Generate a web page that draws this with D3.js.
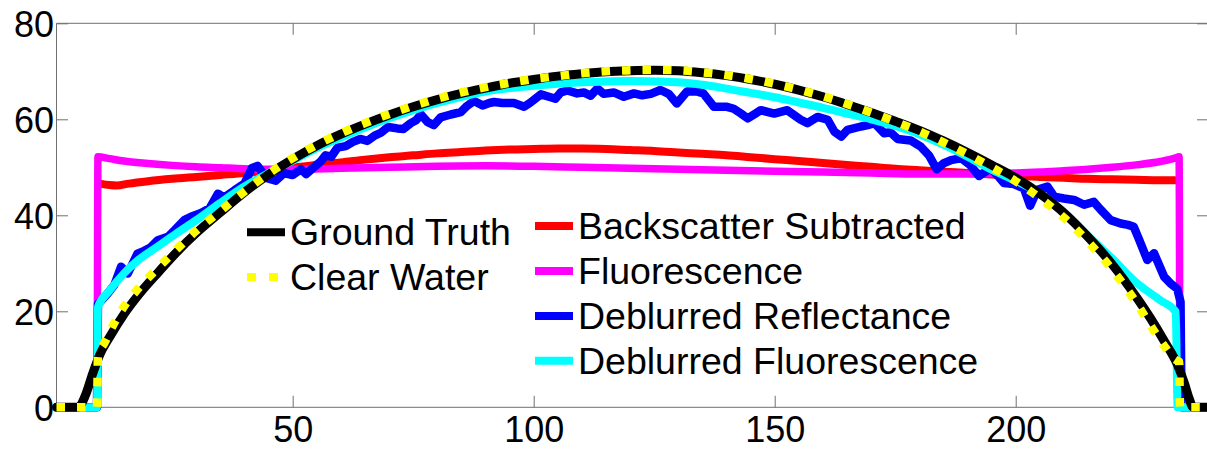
<!DOCTYPE html>
<html>
<head>
<meta charset="utf-8">
<script src="https://cdn.jsdelivr.net/npm/d3@7"></script>
<style>
  html, body { margin: 0; padding: 0; background: #fff; }
  svg { display: block; }
  text { font-family: "Liberation Sans", Arial, Helvetica, sans-serif; fill: #000; }
</style>
</head>
<body>
<svg id="chart" width="1207" height="451"></svg>
<script>
// ---------- data ----------
const xTicks = [50, 100, 150, 200];
const yTicks = [0, 20, 40, 60, 80];

const groundTruthX = [1, 5.5, 7, 8.5, 10, 12, 15, 18, 22, 26, 30, 35, 40, 45, 50, 55, 60, 65, 70, 75, 80, 85, 90, 95, 100, 105, 110, 115, 120, 125, 130, 135, 140, 145, 150, 155, 160, 165, 170, 175, 180, 185, 190, 195, 200, 205, 210, 215, 220, 225, 228, 231, 233.5, 235, 236, 236.8, 240];
const groundTruthY = [0, 0, 2.5, 7, 11, 14.6, 19.4, 23.4, 28, 32.4, 36.3, 40.6, 44.8, 48.5, 51.7, 54.5, 56.9, 59, 60.9, 62.6, 64.1, 65.4, 66.5, 67.5, 68.3, 69, 69.5, 69.9, 70.1, 70.2, 70.1, 69.7, 69.1, 68.3, 67.3, 66.1, 64.7, 63.1, 61.4, 59.6, 57.7, 55.5, 53.1, 50.5, 47.8, 44.5, 40.5, 35.5, 29.8, 23, 18.5, 13.5, 9, 5, 1.8, 0, 0];

const clearWaterX = [1, 9.4, 9.6, 11, 13, 15, 18, 22, 26, 30, 35, 40, 45, 50, 55, 60, 65, 70, 75, 80, 85, 90, 95, 100, 105, 110, 115, 120, 125, 130, 135, 140, 145, 150, 155, 160, 165, 170, 175, 180, 185, 190, 195, 200, 205, 210, 215, 220, 225, 228, 231, 233, 233.9, 234.1, 240];
const clearWaterY = [0, 0, 10.5, 13.5, 17.6, 21, 24.8, 29, 33, 36.8, 40.9, 45, 48.7, 51.9, 54.7, 57.1, 59.2, 61.1, 62.8, 64.3, 65.6, 66.7, 67.6, 68.4, 69, 69.6, 70, 70.2, 70.3, 70.2, 69.8, 69.2, 68.4, 67.4, 66.2, 64.8, 63.2, 61.4, 59.5, 57.5, 55.2, 52.7, 50, 47.1, 43.6, 39.5, 34.5, 28.7, 21.8, 17, 12.5, 10, 9.5, 0, 0];

const backscatterX = [10, 12, 13.5, 16, 20, 25, 30, 35, 40, 45, 50, 55, 60, 65, 70, 75, 80, 85, 90, 95, 100, 105, 110, 115, 120, 125, 130, 135, 140, 145, 150, 155, 160, 165, 170, 175, 180, 185, 190, 195, 200, 205, 210, 215, 220, 225, 230, 233];
const backscatterY = [46.6, 46.3, 46.2, 46.6, 47.1, 47.6, 48, 48.4, 48.8, 49.3, 49.9, 50.5, 51, 51.6, 52.1, 52.5, 52.9, 53.2, 53.5, 53.7, 53.8, 53.9, 53.9, 53.8, 53.6, 53.4, 53.1, 52.8, 52.5, 52.1, 51.7, 51.3, 50.9, 50.5, 50.1, 49.7, 49.4, 49.1, 48.8, 48.5, 48.2, 48, 47.8, 47.6, 47.5, 47.4, 47.3, 47.3];

const fluorescenceX = [1, 9.4, 9.6, 12, 15, 20, 25, 30, 35, 40, 45, 50, 60, 70, 80, 90, 100, 110, 120, 130, 140, 150, 160, 170, 180, 190, 195, 200, 205, 210, 215, 220, 225, 230, 233, 233.9, 234.1, 240];
const fluorescenceY = [0, 0, 52.2, 51.8, 51.3, 50.8, 50.4, 50.1, 49.9, 49.7, 49.6, 49.6, 49.8, 50, 50.2, 50.3, 50.2, 50, 49.8, 49.6, 49.4, 49.2, 49, 48.8, 48.6, 48.6, 48.7, 48.8, 49, 49.3, 49.6, 50, 50.5, 51.2, 51.9, 52.2, 0, 0];

const deblurReflX = [1, 9.4, 9.6, 11.6, 13, 14.4, 15.8, 17.8, 19.2, 20.5, 22, 24.1, 25.5, 27.5, 28.9, 31, 32.8, 34.5, 35.8, 37.9, 40, 41.5, 42.7, 44.5, 46.5, 48.2, 50, 51.7, 52.8, 54.4, 55.8, 56.8, 58, 59.3, 61, 62.5, 64, 65.5, 67, 68.3, 69.8, 71.7, 73, 74.5, 75.6, 76.6, 78, 79.3, 80.7, 82.8, 84.9, 86.2, 87.6, 89.4, 90.8, 91.8, 93.5, 95.9, 98, 99.2, 101.5, 103.5, 104.5, 105.6, 107, 109, 110.4, 111.8, 113.2, 114.5, 116.6, 118.7, 120.8, 122.5, 124.3, 126.3, 128, 129.7, 131.8, 133.8, 135.2, 137.4, 140.1, 141.5, 143, 144.4, 146, 147.1, 149.9, 152.6, 155.4, 156.8, 158.9, 161, 162.4, 163.8, 165.1, 167.9, 169.3, 170.7, 172.7, 174, 175.5, 178.2, 180.3, 182, 183.6, 185, 186.6, 188.7, 190.5, 192.4, 194.8, 196.5, 197.6, 199.6, 201.7, 203, 204.5, 206.6, 208, 210, 212.1, 214.2, 216.2, 217.6, 219.7, 221.8, 223.3, 224.5, 225.5, 227.3, 228.7, 230.8, 232.1, 233.5, 234.2, 234.4, 240];
const deblurReflY = [0, 0, 21.5, 23.7, 25.5, 29.3, 27.9, 32, 32.6, 33.3, 34.8, 35.5, 36.9, 39, 39.7, 40.5, 41.5, 44.5, 43.7, 45.2, 46.6, 49.8, 50.3, 47.8, 47.2, 48.8, 48.4, 49.6, 48.6, 50, 51.2, 52.5, 52.2, 54.1, 54.4, 55.3, 55.9, 55.5, 56.6, 57.2, 58.4, 58.1, 58, 59.2, 59.8, 61, 59.4, 58.8, 60.4, 61, 61.5, 62.8, 63.8, 62.9, 63.4, 63.6, 63.4, 63.4, 62.6, 63.4, 65.2, 64.6, 64.3, 65.6, 66, 65.4, 65.6, 64.9, 66.4, 65.3, 65.6, 64.7, 65.4, 65, 65.3, 66.1, 65.3, 63.3, 65.8, 65.8, 65.4, 62.6, 62.6, 62.2, 61.2, 60.2, 61.2, 61.9, 61.2, 61.9, 59.9, 59.2, 60.5, 59.9, 57.4, 56.4, 57.8, 58.5, 58.8, 59.2, 57.1, 57.3, 55.9, 55.6, 54.3, 52.5, 49.6, 50.8, 51.5, 51.9, 50.5, 48.2, 49.8, 48, 46.7, 46.5, 45.6, 42, 45.3, 46, 43.9, 43.5, 43.2, 42.2, 42.8, 41.2, 39, 38.3, 38, 37.6, 35.2, 30.7, 32.1, 27.2, 25.8, 24.7, 22, 0, 0];

const deblurFluorX = [1, 9.4, 9.6, 12, 15, 18, 22, 26, 30, 35, 40, 45, 50, 55, 60, 65, 70, 75, 80, 85, 90, 95, 100, 105, 110, 115, 120, 125, 130, 135, 140, 145, 150, 155, 160, 165, 170, 175, 180, 185, 190, 195, 200, 205, 210, 215, 220, 225, 230, 233.2, 233.6, 240];
const deblurFluorY = [0, 0, 20.9, 24.3, 27.9, 30.7, 33.5, 36.3, 39, 42.6, 46, 48.8, 51.4, 54, 56.2, 58.3, 60.2, 61.9, 63.4, 64.7, 65.8, 66.5, 67, 67.4, 67.7, 67.9, 68, 67.9, 67.7, 67.2, 66.4, 65.5, 64.6, 63.5, 62.4, 61.2, 60, 58.6, 56.9, 54.7, 52.2, 49.5, 47.2, 44.6, 40.6, 35.7, 31, 26, 22.3, 19.9, 0, 0];

const legendLabels = ["Ground Truth", "Clear Water", "Backscatter Subtracted", "Fluorescence", "Deblurred Reflectance", "Deblurred Fluorescence"];
const seriesColors = ["#000000", "#ffff00", "#ff0000", "#ff00ff", "#0000ff", "#00ffff"];

// ---------- layout ----------
const plotLeft = 56.5, plotRight = 1208.5, plotTop = 23.3, plotBottom = 407.3;
const axisColor = "#707070";

const svg = d3.select("#chart");
const x = d3.scaleLinear().domain([1, 240]).range([plotLeft, plotRight]);
const y = d3.scaleLinear().domain([0, 80]).range([plotBottom, plotTop]);

// axes box
const g = svg.append("g");
g.append("line").attr("x1", plotLeft).attr("x2", plotRight).attr("y1", plotTop).attr("y2", plotTop).attr("stroke", axisColor);
g.append("line").attr("x1", plotLeft).attr("x2", plotRight).attr("y1", plotBottom).attr("y2", plotBottom).attr("stroke", axisColor);
g.append("line").attr("x1", plotLeft).attr("x2", plotLeft).attr("y1", plotTop).attr("y2", plotBottom).attr("stroke", axisColor);
g.append("line").attr("x1", plotRight).attr("x2", plotRight).attr("y1", plotTop).attr("y2", plotBottom).attr("stroke", axisColor);

// x axis (bottom, ticks inward) and top mirror ticks
const xAxis = d3.axisBottom(x).tickValues(xTicks).tickSize(-11.5).tickSizeOuter(0);
const gx = svg.append("g").attr("transform", `translate(0,${plotBottom})`).call(xAxis);
gx.select(".domain").remove();
gx.selectAll(".tick line").attr("stroke", axisColor);
gx.selectAll(".tick text").attr("font-size", 36).attr("dy", 0).attr("y", 34.5)
  .style("font-family", "'Liberation Sans', Arial, sans-serif").attr("fill", "#000");
const gxt = svg.append("g").attr("transform", `translate(0,${plotTop})`)
  .call(d3.axisTop(x).tickValues(xTicks).tickSize(-11.5).tickFormat(""));
gxt.select(".domain").remove();
gxt.selectAll(".tick line").attr("stroke", axisColor);

// y axis (left, ticks inward) and right mirror ticks
const yAxis = d3.axisLeft(y).tickValues(yTicks).tickSize(-11.5).tickSizeOuter(0);
const gy = svg.append("g").attr("transform", `translate(${plotLeft},0)`).call(yAxis);
gy.select(".domain").remove();
gy.selectAll(".tick line").attr("stroke", axisColor);
gy.selectAll(".tick text").attr("font-size", 36).attr("x", -2.5).attr("dy", "0.36em")
  .style("font-family", "'Liberation Sans', Arial, sans-serif").attr("fill", "#000");
const gyr = svg.append("g").attr("transform", `translate(${plotRight},0)`)
  .call(d3.axisRight(y).tickValues(yTicks).tickSize(-11.5).tickFormat(""));
gyr.select(".domain").remove();
gyr.selectAll(".tick line").attr("stroke", axisColor);

// ---------- series ----------
function pts(xs, ys) { return xs.map((d, i) => [d, ys[i]]); }
const smooth = d3.line().x(d => x(d[0])).y(d => y(d[1])).curve(d3.curveMonotoneX);
const straight = d3.line().x(d => x(d[0])).y(d => y(d[1]));

const series = [
  { data: pts(backscatterX, backscatterY), gen: smooth, color: seriesColors[2], w: 8 },
  { data: pts(fluorescenceX, fluorescenceY), gen: smooth, color: seriesColors[3], w: 7.5 },
  { data: pts(deblurReflX, deblurReflY), gen: straight, color: seriesColors[4], w: 8.5 },
  { data: pts(deblurFluorX, deblurFluorY), gen: smooth, color: seriesColors[5], w: 8 },
  { data: pts(groundTruthX, groundTruthY), gen: smooth, color: seriesColors[0], w: 9 },
  { data: pts(clearWaterX, clearWaterY), gen: smooth, color: seriesColors[1], w: 8.5, dash: "8.5,12" }
];
const lines = svg.append("g");
series.forEach(s => {
  lines.append("path")
    .attr("d", s.gen(s.data))
    .attr("fill", "none")
    .attr("stroke", s.color)
    .attr("stroke-width", s.w)
    .attr("stroke-linejoin", "round")
    .attr("stroke-linecap", s.dash ? "butt" : "round")
    .attr("stroke-dasharray", s.dash || null);
});

// ---------- legend ----------
const legendItems = [
  { label: legendLabels[0], color: seriesColors[0], lx: 247, ly: 232.3 },
  { label: legendLabels[1], color: seriesColors[1], lx: 247, ly: 277, dash: "9,13" },
  { label: legendLabels[2], color: seriesColors[2], lx: 535, ly: 226 },
  { label: legendLabels[3], color: seriesColors[3], lx: 535, ly: 271 },
  { label: legendLabels[4], color: seriesColors[4], lx: 535, ly: 316 },
  { label: legendLabels[5], color: seriesColors[5], lx: 535, ly: 360.7 }
];
const lg = svg.append("g");
legendItems.forEach(it => {
  lg.append("line")
    .attr("x1", it.lx).attr("x2", it.lx + 38)
    .attr("y1", it.ly).attr("y2", it.ly)
    .attr("stroke", it.color).attr("stroke-width", 8)
    .attr("stroke-dasharray", it.dash || null);
  lg.append("text")
    .attr("x", it.lx + 43).attr("y", it.ly + 13)
    .attr("font-size", 37.5)
    .text(it.label);
});
</script>
</body>
</html>
